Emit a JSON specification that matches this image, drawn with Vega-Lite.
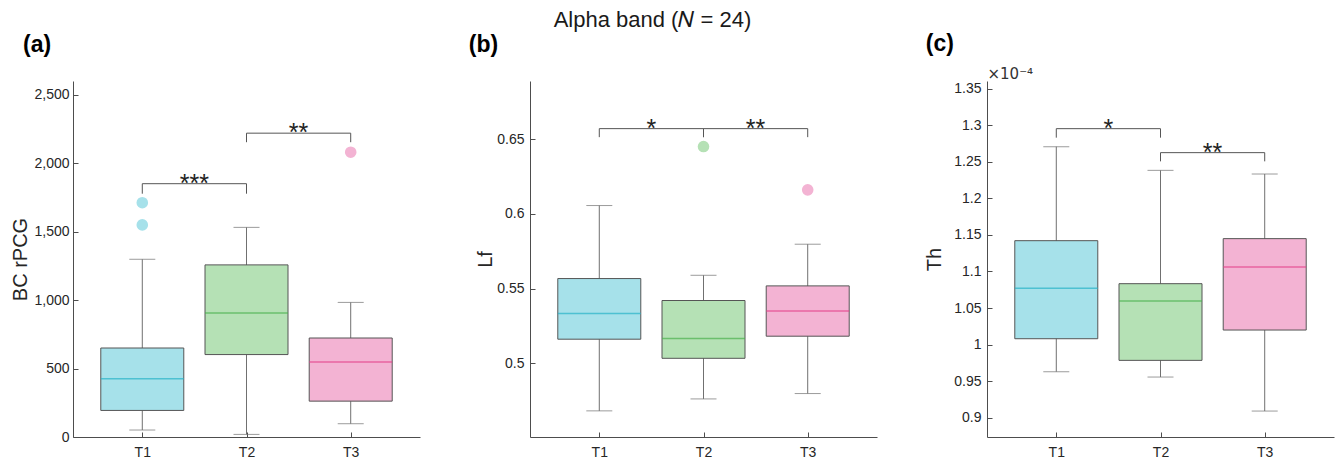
{
  "$schema": "https://vega.github.io/schema/vega-lite/v6.json",
  "padding": {"left": 10, "top": 9, "right": 5, "bottom": 5},
  "bounds": "flush",
  "spacing": 110,
  "title": {"text": "Alpha band (𝑁 = 24)", "fontSize": 22, "fontWeight": "normal", "anchor": "middle", "dx": -20, "offset": 1, "color": "#1a1a1a", "font": "Liberation Sans"},
  "config": {
    "font": "Liberation Sans",
    "view": {"stroke": null},
    "axis": {"domainColor": "#4d4d4d", "tickColor": "#4d4d4d", "labelColor": "#262626", "labelFont": "Liberation Sans", "labelFontSize": 14, "titleFont": "Liberation Sans", "titleFontSize": 20, "titleFontWeight": "normal", "titleColor": "#262626", "grid": false, "tickSize": -5, "domainWidth": 1, "tickWidth": 1, "labelOverlap": false}
  },
  "resolve": {"scale": {"y": "independent"}},
  "datasets": {
    "boxes": [
      {"panel": "a", "group": "T1", "lo": 51, "q1": 194, "med": 425, "q3": 650, "hi": 1298},
      {"panel": "a", "group": "T2", "lo": 19, "q1": 602, "med": 905, "q3": 1257, "hi": 1531},
      {"panel": "a", "group": "T3", "lo": 97, "q1": 262, "med": 548, "q3": 723, "hi": 983},
      {"panel": "b", "group": "T1", "lo": 0.4681, "q1": 0.5161, "med": 0.5333, "q3": 0.5567, "hi": 0.6056},
      {"panel": "b", "group": "T2", "lo": 0.4761, "q1": 0.5033, "med": 0.5165, "q3": 0.542, "hi": 0.5589},
      {"panel": "b", "group": "T3", "lo": 0.4797, "q1": 0.5181, "med": 0.535, "q3": 0.5518, "hi": 0.5797},
      {"panel": "c", "group": "T1", "lo": 0.00009629, "q1": 0.0001008, "med": 0.00010769, "q3": 0.00011421, "hi": 0.00012707},
      {"panel": "c", "group": "T2", "lo": 0.00009556, "q1": 0.00009784, "med": 0.00010596, "q3": 0.00010833, "hi": 0.00012383},
      {"panel": "c", "group": "T3", "lo": 0.00009091, "q1": 0.00010199, "med": 0.00011061, "q3": 0.00011449, "hi": 0.00012333}
    ],
    "outliers": [
      {"panel": "a", "group": "T1", "value": 1711},
      {"panel": "a", "group": "T1", "value": 1549},
      {"panel": "a", "group": "T3", "value": 2080},
      {"panel": "b", "group": "T2", "value": 0.6451},
      {"panel": "b", "group": "T3", "value": 0.6161}
    ],
    "brackets": [
      {"panel": "a", "g1": "T1", "g2": "T2", "yb": 1850, "yl": 1777, "label": "***"},
      {"panel": "a", "g1": "T2", "g2": "T3", "yb": 2219, "yl": 2153, "label": "**"},
      {"panel": "b", "g1": "T1", "g2": "T2", "yb": 0.6571, "yl": 0.6514, "label": "*"},
      {"panel": "b", "g1": "T2", "g2": "T3", "yb": 0.6571, "yl": 0.6514, "label": "**"},
      {"panel": "c", "g1": "T1", "g2": "T2", "yb": 0.00012953, "yl": 0.0001283, "label": "*"},
      {"panel": "c", "g1": "T2", "g2": "T3", "yb": 0.00012625, "yl": 0.00012506, "label": "**"}
    ]
  },
  "hconcat": [
    {
      "width": 347, "height": 356,
      "title": {"text": "(a)", "anchor": "start", "dx": 12, "fontSize": 23, "fontWeight": "bold", "offset": 24, "color": "black", "font": "Liberation Sans"},
      "encoding": {"x": {"field": "group", "type": "nominal", "scale": {"type": "point", "padding": 0.665, "domain": ["T1", "T2", "T3"]}, "axis": {"title": null, "labelAngle": 0, "labelPadding": 13}}},
      "layer": [
        {"data": {"name": "boxes"}, "transform": [{"filter": "datum.panel === 'a'"}], "mark": {"type": "rule", "color": "#707070"},
         "encoding": {"y": {"field": "lo", "type": "quantitative", "scale": {"domain": [0, 2600], "nice": false, "zero": false}, "axis": {"title": "BC rPCG", "values": [0, 500, 1000, 1500, 2000, 2500], "format": ",d", "labelPadding": 9, "titlePadding": 3, "labelOverlap": false}}, "y2": {"field": "hi"}}},
        {"data": {"name": "boxes"}, "transform": [{"filter": "datum.panel === 'a'"}], "mark": {"type": "tick", "orient": "horizontal", "size": 26, "thickness": 1, "color": "#707070"}, "encoding": {"y": {"field": "lo", "type": "quantitative"}}},
        {"data": {"name": "boxes"}, "transform": [{"filter": "datum.panel === 'a'"}], "mark": {"type": "tick", "orient": "horizontal", "size": 26, "thickness": 1, "color": "#707070"}, "encoding": {"y": {"field": "hi", "type": "quantitative"}}},
        {"data": {"name": "boxes"}, "transform": [{"filter": "datum.panel === 'a'"}], "mark": {"type": "bar", "size": 83, "stroke": "#555555", "strokeWidth": 1},
         "encoding": {"y": {"field": "q1", "type": "quantitative"}, "y2": {"field": "q3"}, "fill": {"field": "group", "type": "nominal", "scale": {"domain": ["T1", "T2", "T3"], "range": ["#a6e1ea", "#b5e1b5", "#f3b3d3"]}, "legend": null}}},
        {"data": {"name": "boxes"}, "transform": [{"filter": "datum.panel === 'a'"}], "mark": {"type": "tick", "orient": "horizontal", "size": 83, "thickness": 1.5},
         "encoding": {"y": {"field": "med", "type": "quantitative"}, "color": {"field": "group", "type": "nominal", "scale": {"domain": ["T1", "T2", "T3"], "range": ["#28b4c8", "#4cb04f", "#e6428c"]}, "legend": null}}},
        {"data": {"name": "outliers"}, "transform": [{"filter": "datum.panel === 'a'"}], "mark": {"type": "circle", "size": 135, "opacity": 1},
         "encoding": {"y": {"field": "value", "type": "quantitative"}, "fill": {"field": "group", "type": "nominal", "legend": null}}},
        {"data": {"name": "brackets"}, "transform": [{"filter": "datum.panel === 'a'"}], "mark": {"type": "rule", "color": "#555555"},
         "encoding": {"x": {"field": "g1", "type": "nominal"}, "x2": {"field": "g2"}, "y": {"field": "yb", "type": "quantitative"}}},
        {"data": {"name": "brackets"}, "transform": [{"filter": "datum.panel === 'a'"}], "mark": {"type": "rule", "color": "#555555"},
         "encoding": {"x": {"field": "g1", "type": "nominal"}, "y": {"field": "yb", "type": "quantitative"}, "y2": {"field": "yl"}}},
        {"data": {"name": "brackets"}, "transform": [{"filter": "datum.panel === 'a'"}], "mark": {"type": "rule", "color": "#555555"},
         "encoding": {"x": {"field": "g2", "type": "nominal"}, "y": {"field": "yb", "type": "quantitative"}, "y2": {"field": "yl"}}},
        {"data": {"name": "brackets"}, "transform": [{"filter": "datum.panel === 'a'"}], "mark": {"type": "text", "dx": 52, "dy": 8, "baseline": "alphabetic", "align": "center", "fontSize": 25, "color": "#222222"},
         "encoding": {"x": {"field": "g1", "type": "nominal"}, "y": {"field": "yb", "type": "quantitative"}, "text": {"field": "label"}}}
      ]
    },
    {
      "width": 347, "height": 356,
      "title": {"text": "(b)", "anchor": "start", "dx": -7, "fontSize": 23, "fontWeight": "bold", "offset": 24, "color": "black", "font": "Liberation Sans"},
      "encoding": {"x": {"field": "group", "type": "nominal", "scale": {"type": "point", "padding": 0.665, "domain": ["T1", "T2", "T3"]}, "axis": {"title": null, "labelAngle": 0, "labelPadding": 13}}},
      "layer": [
        {"data": {"name": "boxes"}, "transform": [{"filter": "datum.panel === 'b'"}], "mark": {"type": "rule", "color": "#707070"},
         "encoding": {"y": {"field": "lo", "type": "quantitative", "scale": {"domain": [0.4506, 0.689], "nice": false, "zero": false}, "axis": {"title": "Lf", "values": [0.5, 0.55, 0.6, 0.65], "format": "~g", "labelPadding": 11, "titlePadding": 1, "labelOverlap": false}}, "y2": {"field": "hi"}}},
        {"data": {"name": "boxes"}, "transform": [{"filter": "datum.panel === 'b'"}], "mark": {"type": "tick", "orient": "horizontal", "size": 26, "thickness": 1, "color": "#707070"}, "encoding": {"y": {"field": "lo", "type": "quantitative"}}},
        {"data": {"name": "boxes"}, "transform": [{"filter": "datum.panel === 'b'"}], "mark": {"type": "tick", "orient": "horizontal", "size": 26, "thickness": 1, "color": "#707070"}, "encoding": {"y": {"field": "hi", "type": "quantitative"}}},
        {"data": {"name": "boxes"}, "transform": [{"filter": "datum.panel === 'b'"}], "mark": {"type": "bar", "size": 83, "stroke": "#555555", "strokeWidth": 1},
         "encoding": {"y": {"field": "q1", "type": "quantitative"}, "y2": {"field": "q3"}, "fill": {"field": "group", "type": "nominal", "scale": {"domain": ["T1", "T2", "T3"], "range": ["#a6e1ea", "#b5e1b5", "#f3b3d3"]}, "legend": null}}},
        {"data": {"name": "boxes"}, "transform": [{"filter": "datum.panel === 'b'"}], "mark": {"type": "tick", "orient": "horizontal", "size": 83, "thickness": 1.5},
         "encoding": {"y": {"field": "med", "type": "quantitative"}, "color": {"field": "group", "type": "nominal", "scale": {"domain": ["T1", "T2", "T3"], "range": ["#28b4c8", "#4cb04f", "#e6428c"]}, "legend": null}}},
        {"data": {"name": "outliers"}, "transform": [{"filter": "datum.panel === 'b'"}], "mark": {"type": "circle", "size": 135, "opacity": 1},
         "encoding": {"y": {"field": "value", "type": "quantitative"}, "fill": {"field": "group", "type": "nominal", "legend": null}}},
        {"data": {"name": "brackets"}, "transform": [{"filter": "datum.panel === 'b'"}], "mark": {"type": "rule", "color": "#555555"},
         "encoding": {"x": {"field": "g1", "type": "nominal"}, "x2": {"field": "g2"}, "y": {"field": "yb", "type": "quantitative"}}},
        {"data": {"name": "brackets"}, "transform": [{"filter": "datum.panel === 'b'"}], "mark": {"type": "rule", "color": "#555555"},
         "encoding": {"x": {"field": "g1", "type": "nominal"}, "y": {"field": "yb", "type": "quantitative"}, "y2": {"field": "yl"}}},
        {"data": {"name": "brackets"}, "transform": [{"filter": "datum.panel === 'b'"}], "mark": {"type": "rule", "color": "#555555"},
         "encoding": {"x": {"field": "g2", "type": "nominal"}, "y": {"field": "yb", "type": "quantitative"}, "y2": {"field": "yl"}}},
        {"data": {"name": "brackets"}, "transform": [{"filter": "datum.panel === 'b'"}], "mark": {"type": "text", "dx": 52, "dy": 8, "baseline": "alphabetic", "align": "center", "fontSize": 25, "color": "#222222"},
         "encoding": {"x": {"field": "g1", "type": "nominal"}, "y": {"field": "yb", "type": "quantitative"}, "text": {"field": "label"}}}
      ]
    },
    {
      "width": 347, "height": 356,
      "title": {"text": "(c)", "anchor": "start", "dx": 1, "fontSize": 23, "fontWeight": "bold", "offset": 10, "color": "black", "font": "Liberation Sans"},
      "encoding": {"x": {"field": "group", "type": "nominal", "scale": {"type": "point", "padding": 0.665, "domain": ["T1", "T2", "T3"]}, "axis": {"title": null, "labelAngle": 0, "labelPadding": 13}}},
      "resolve": {"axis": {"x": "independent"}},
      "layer": [
        {
          "layer": [
            {"data": {"name": "boxes"}, "transform": [{"filter": "datum.panel === 'c'"}], "mark": {"type": "rule", "color": "#707070"},
             "encoding": {"y": {"field": "lo", "type": "quantitative", "scale": {"domain": [0.00008736, 0.00013605], "nice": false, "zero": false}, "axis": {"title": "Th", "values": [0.00009, 0.000095, 0.0001, 0.000105, 0.00011, 0.000115, 0.00012, 0.000125, 0.00013, 0.000135], "labelExpr": "format(datum.value * 10000, '.2~f')", "labelPadding": 11, "titlePadding": 9, "labelOverlap": false, "labelBound": false, "tickCount": 10}}, "y2": {"field": "hi"}}},
            {"data": {"name": "boxes"}, "transform": [{"filter": "datum.panel === 'c'"}], "mark": {"type": "tick", "orient": "horizontal", "size": 26, "thickness": 1, "color": "#707070"}, "encoding": {"y": {"field": "lo", "type": "quantitative"}}},
            {"data": {"name": "boxes"}, "transform": [{"filter": "datum.panel === 'c'"}], "mark": {"type": "tick", "orient": "horizontal", "size": 26, "thickness": 1, "color": "#707070"}, "encoding": {"y": {"field": "hi", "type": "quantitative"}}},
            {"data": {"name": "boxes"}, "transform": [{"filter": "datum.panel === 'c'"}], "mark": {"type": "bar", "size": 83, "stroke": "#555555", "strokeWidth": 1},
             "encoding": {"y": {"field": "q1", "type": "quantitative"}, "y2": {"field": "q3"}, "fill": {"field": "group", "type": "nominal", "scale": {"domain": ["T1", "T2", "T3"], "range": ["#a6e1ea", "#b5e1b5", "#f3b3d3"]}, "legend": null}}},
            {"data": {"name": "boxes"}, "transform": [{"filter": "datum.panel === 'c'"}], "mark": {"type": "tick", "orient": "horizontal", "size": 83, "thickness": 1.5},
             "encoding": {"y": {"field": "med", "type": "quantitative"}, "color": {"field": "group", "type": "nominal", "scale": {"domain": ["T1", "T2", "T3"], "range": ["#28b4c8", "#4cb04f", "#e6428c"]}, "legend": null}}},
            {"data": {"name": "brackets"}, "transform": [{"filter": "datum.panel === 'c'"}], "mark": {"type": "rule", "color": "#555555"},
             "encoding": {"x": {"field": "g1", "type": "nominal"}, "x2": {"field": "g2"}, "y": {"field": "yb", "type": "quantitative"}}},
            {"data": {"name": "brackets"}, "transform": [{"filter": "datum.panel === 'c'"}], "mark": {"type": "rule", "color": "#555555"},
             "encoding": {"x": {"field": "g1", "type": "nominal"}, "y": {"field": "yb", "type": "quantitative"}, "y2": {"field": "yl"}}},
            {"data": {"name": "brackets"}, "transform": [{"filter": "datum.panel === 'c'"}], "mark": {"type": "rule", "color": "#555555"},
             "encoding": {"x": {"field": "g2", "type": "nominal"}, "y": {"field": "yb", "type": "quantitative"}, "y2": {"field": "yl"}}}
          ]
        },
        {"data": {"name": "brackets"}, "transform": [{"filter": "datum.panel === 'c'"}], "mark": {"type": "text", "dx": 52, "dy": 8, "baseline": "alphabetic", "align": "center", "fontSize": 25, "color": "#222222"},
         "encoding": {"x": {"field": "g1", "type": "nominal", "axis": {"orient": "top", "title": "×10⁻⁴", "labels": false, "ticks": false, "domain": false, "titleAnchor": "start", "titleAlign": "left", "titleBaseline": "alphabetic", "titleFont": "DejaVu Sans", "titleFontSize": 15, "titleFontWeight": "normal", "titlePadding": 3, "titleColor": "#333333"}}, "y": {"field": "yb", "type": "quantitative"}, "text": {"field": "label"}}}
      ]
    }
  ]
}
